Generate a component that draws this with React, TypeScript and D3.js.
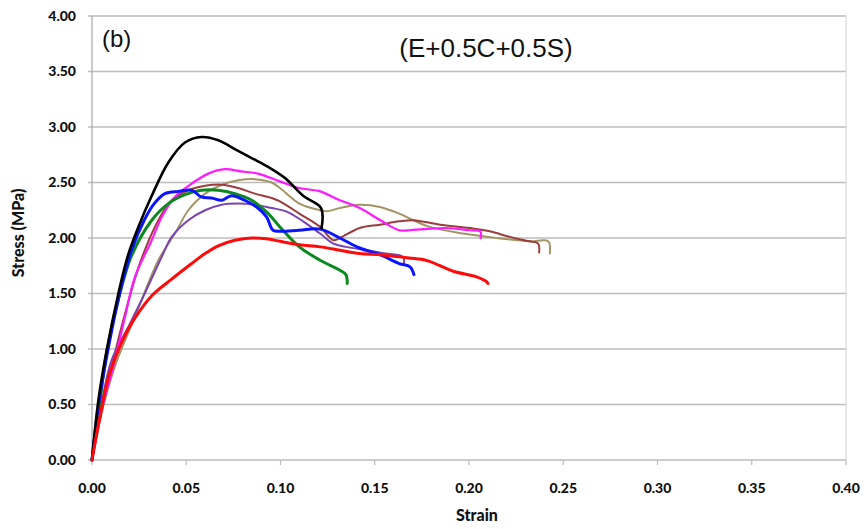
import React from 'react';
import * as d3 from 'd3';

// stress-strain curves
const blackStrain = [0, 0.0034, 0.0078, 0.014, 0.019, 0.0246, 0.0317, 0.0405, 0.0493, 0.0582, 0.067, 0.0758, 0.0847, 0.0935, 0.1024, 0.112, 0.1215, 0.1218];
const blackStress = [0, 0.54, 0.99, 1.50, 1.84, 2.10, 2.38, 2.68, 2.86, 2.91, 2.88, 2.80, 2.72, 2.64, 2.54, 2.38, 2.27, 2.09];

const blueStrain = [0, 0.0035, 0.008, 0.014, 0.021, 0.028, 0.033, 0.0387, 0.0458, 0.0529, 0.058, 0.0635, 0.0688, 0.074, 0.081, 0.088, 0.0926, 0.096, 0.0997, 0.110, 0.121, 0.1315, 0.142, 0.1527, 0.163, 0.1687, 0.1708];
const blueStress = [0, 0.5, 0.95, 1.45, 1.89, 2.17, 2.31, 2.40, 2.42, 2.43, 2.37, 2.36, 2.34, 2.38, 2.34, 2.27, 2.19, 2.07, 2.06, 2.07, 2.08, 2.00, 1.91, 1.85, 1.77, 1.74, 1.67];

const greenStrain = [0, 0.004, 0.0078, 0.014, 0.021, 0.0317, 0.0405, 0.0493, 0.058, 0.067, 0.0758, 0.0847, 0.0935, 0.0997, 0.110, 0.121, 0.1315, 0.1347, 0.1354];
const greenStress = [0, 0.5, 0.97, 1.45, 1.84, 2.16, 2.31, 2.39, 2.43, 2.43, 2.40, 2.34, 2.22, 2.10, 1.92, 1.80, 1.71, 1.67, 1.59];

const redStrain = [0, 0.0042, 0.0086, 0.014, 0.018, 0.0228, 0.0317, 0.0423, 0.0529, 0.06, 0.067, 0.0758, 0.0847, 0.0935, 0.0997, 0.110, 0.121, 0.1315, 0.142, 0.153, 0.163, 0.174, 0.179, 0.1917, 0.204, 0.209, 0.210];
const redStress = [0, 0.39, 0.74, 0.99, 1.14, 1.28, 1.48, 1.63, 1.77, 1.86, 1.93, 1.98, 2.00, 1.99, 1.97, 1.94, 1.92, 1.89, 1.86, 1.85, 1.83, 1.81, 1.79, 1.70, 1.65, 1.61, 1.59];

const magentaStrain = [0, 0.005, 0.0122, 0.0175, 0.0228, 0.0317, 0.037, 0.044, 0.0529, 0.0617, 0.0705, 0.079, 0.088, 0.0997, 0.110, 0.121, 0.1315, 0.142, 0.153, 0.163, 0.1687, 0.1757, 0.188, 0.2005, 0.206, 0.2062];
const magentaStress = [0, 0.45, 0.90, 1.29, 1.65, 1.98, 2.19, 2.37, 2.49, 2.58, 2.62, 2.60, 2.58, 2.51, 2.45, 2.42, 2.34, 2.27, 2.16, 2.07, 2.07, 2.08, 2.09, 2.07, 2.06, 2.00];

const brownStrain = [0, 0.005, 0.011, 0.018, 0.026, 0.0352, 0.0423, 0.0511, 0.06, 0.0688, 0.0776, 0.0864, 0.0953, 0.0997, 0.110, 0.121, 0.128, 0.1315, 0.142, 0.1527, 0.163, 0.1705, 0.1846, 0.2005, 0.211, 0.2217, 0.232, 0.2367, 0.2372];
const brownStress = [0, 0.42, 0.88, 1.35, 1.80, 2.16, 2.34, 2.43, 2.47, 2.48, 2.45, 2.40, 2.36, 2.33, 2.22, 2.10, 1.98, 2.00, 2.09, 2.12, 2.15, 2.16, 2.12, 2.09, 2.06, 2.01, 1.97, 1.95, 1.87];

const tanStrain = [0, 0.005, 0.0104, 0.014, 0.0228, 0.0352, 0.044, 0.0511, 0.06, 0.0688, 0.0776, 0.0864, 0.0953, 0.0997, 0.110, 0.121, 0.1245, 0.1315, 0.142, 0.1527, 0.163, 0.1705, 0.179, 0.197, 0.2146, 0.232, 0.242, 0.2429];
const tanStress = [0, 0.42, 0.75, 0.93, 1.29, 1.80, 2.04, 2.25, 2.40, 2.48, 2.52, 2.53, 2.50, 2.45, 2.31, 2.25, 2.24, 2.27, 2.30, 2.28, 2.22, 2.16, 2.10, 2.04, 2.00, 1.97, 1.97, 1.86];

const purpleStrain = [0, 0.005, 0.0104, 0.0193, 0.028, 0.037, 0.0423, 0.0511, 0.06, 0.0688, 0.0776, 0.0864, 0.0953, 0.103, 0.112, 0.121, 0.128, 0.135, 0.1457, 0.156, 0.165, 0.1655];
const purpleStress = [0, 0.50, 0.90, 1.20, 1.50, 1.83, 2.01, 2.16, 2.25, 2.30, 2.31, 2.30, 2.27, 2.24, 2.15, 2.04, 1.95, 1.92, 1.89, 1.86, 1.83, 1.77];

const xTicks = [0, 0.05, 0.1, 0.15, 0.2, 0.25, 0.3, 0.35, 0.4];
const yTicks = [0, 0.5, 1, 1.5, 2, 2.5, 3, 3.5, 4];

const series = [
  { x: tanStrain, y: tanStress, color: '#a39466', w: 2 },
  { x: brownStrain, y: brownStress, color: '#9b3b3b', w: 2 },
  { x: purpleStrain, y: purpleStress, color: '#7a44b0', w: 2 },
  { x: magentaStrain, y: magentaStress, color: '#ff1aff', w: 2.2 },
  { x: greenStrain, y: greenStress, color: '#0a8a1e', w: 3 },
  { x: blueStrain, y: blueStress, color: '#0a14ff', w: 3 },
  { x: blackStrain, y: blackStress, color: '#000000', w: 2.6 },
  { x: redStrain, y: redStress, color: '#ff0a0a', w: 3 },
];

const W = 867, H = 529;
const left = 92, right = 846, top = 16, bottom = 460;
const tickFont = 'Lato, "Open Sans", sans-serif';

export default function App() {
  const x = d3.scaleLinear().domain([0, 0.4]).range([left, right]);
  const y = d3.scaleLinear().domain([0, 4]).range([bottom, top]);
  const line = d3.line<[number, number]>()
    .x(d => x(d[0])).y(d => y(d[1]))
    .curve(d3.curveCatmullRom.alpha(0.5));

  return (
    <svg width={W} height={H} style={{ position: 'absolute', left: 0, top: 0, background: '#fff' }}>
      {/* grid */}
      {yTicks.map(t => (
        <line key={'g' + t} x1={left - 4} x2={right} y1={y(t)} y2={y(t)} stroke="#bdbdbd" strokeWidth={1.5} />
      ))}
      <line x1={left} x2={left} y1={top} y2={bottom} stroke="#a8a8a8" strokeWidth={1.2} />
      <line x1={right} x2={right} y1={top} y2={bottom} stroke="#d0d0d0" strokeWidth={1} />
      {xTicks.map(t => (
        <line key={'xt' + t} x1={x(t)} x2={x(t)} y1={bottom} y2={bottom + 5} stroke="#bdbdbd" strokeWidth={1.2} />
      ))}

      {/* curves */}
      {series.map((s, i) => (
        <path key={i} d={line(s.x.map((v, j) => [v, s.y[j]] as [number, number])) || ''}
          fill="none" stroke={s.color} strokeWidth={s.w} strokeLinejoin="round" strokeLinecap="round" />
      ))}

      {/* tick labels */}
      {yTicks.map(t => (
        <text key={'yl' + t} x={76} y={y(t)} dy="0.35em" textAnchor="end"
          fontFamily={tickFont} fontWeight="900" fontSize={14} fill="#111">{t.toFixed(2)}</text>
      ))}
      {xTicks.map(t => (
        <text key={'xl' + t} x={x(t)} y={493} textAnchor="middle"
          fontFamily={tickFont} fontWeight="900" fontSize={14} fill="#111">{t.toFixed(2)}</text>
      ))}

      <text x={477} y={521} textAnchor="middle" fontFamily={tickFont} fontWeight="900" fontSize={16} fill="#111">Strain</text>
      <text transform="translate(24,233) rotate(-90)" textAnchor="middle" fontFamily={tickFont} fontWeight="900" fontSize={16} fill="#111">Stress (MPa)</text>

      <text x={102} y={47} fontFamily='"Liberation Sans", Arial, sans-serif' fontSize={24} fill="#111">(b)</text>
      <text x={486} y={57} textAnchor="middle" fontFamily='"Liberation Sans", Arial, sans-serif' fontSize={26} fill="#111">(E+0.5C+0.5S)</text>
    </svg>
  );
}
